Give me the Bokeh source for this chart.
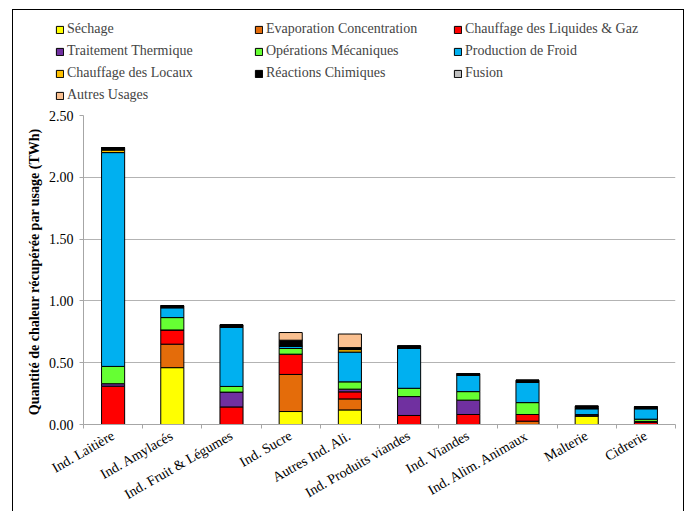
import math
from bokeh.plotting import figure
from bokeh.layouts import column
from bokeh.models import (ColumnDataSource, Legend, LegendItem, FixedTicker,
                          Range1d, NumeralTickFormatter)
from bokeh.embed import file_html
from bokeh.resources import INLINE

categories = ["Ind. Laitière", "Ind. Amylacés", "Ind. Fruit & Légumes", "Ind. Sucre",
              "Autres Ind. Ali.", "Ind. Produits viandes", "Ind. Viandes",
              "Ind. Alim. Animaux", "Malterie", "Cidrerie"]

usages = ["Séchage", "Evaporation Concentration", "Chauffage des Liquides & Gaz",
          "Traitement Thermique", "Opérations Mécaniques", "Production de Froid",
          "Chauffage des Locaux", "Réactions Chimiques", "Fusion", "Autres Usages"]

sechage = [0.0, 0.46, 0.0, 0.105, 0.118, 0.0, 0.0, 0.0, 0.07, 0.0]
evaporation = [0.0, 0.19, 0.0, 0.30, 0.089, 0.0, 0.0, 0.027, 0.0, 0.0]
chauffage_liquides = [0.31, 0.115, 0.142, 0.164, 0.057, 0.073, 0.081, 0.054, 0.0, 0.018]
traitement = [0.02, 0.0, 0.12, 0.0, 0.022, 0.153, 0.116, 0.0, 0.01, 0.007]
operations = [0.14, 0.10, 0.046, 0.046, 0.059, 0.067, 0.069, 0.096, 0.0, 0.018]
froid = [1.73, 0.08, 0.478, 0.018, 0.241, 0.323, 0.132, 0.165, 0.048, 0.085]
locaux = [0.02, 0.0, 0.0, 0.0, 0.02, 0.0, 0.0, 0.0, 0.0, 0.0]
chimiques = [0.02, 0.016, 0.02, 0.049, 0.016, 0.019, 0.013, 0.016, 0.02, 0.015]
fusion = [0.0, 0.0, 0.0, 0.0, 0.0, 0.0, 0.0, 0.0, 0.0, 0.0]
autres = [0.0, 0.0, 0.0, 0.062, 0.11, 0.0, 0.0, 0.0, 0.0, 0.0]

y_ticks = [0.0, 0.5, 1.0, 1.5, 2.0, 2.5]
y_title = "Quantité de chaleur récupérée  par usage (TWh)"

colors = ["#FFFF00", "#E46C0A", "#FF0000", "#7030A0", "#66FF33", "#00B0F0",
          "#FFC000", "#000000", "#BFBFBF", "#FAC090"]

series = [sechage, evaporation, chauffage_liquides, traitement, operations,
          froid, locaux, chimiques, fusion, autres]
keys = ["s%d" % i for i in range(len(series))]

centers = [i + 0.5 for i in range(len(categories))]
data = {"x": centers}
for k, s in zip(keys, series):
    data[k] = s
source = ColumnDataSource(data)

SERIF = "Liberation Serif"
W = 670

# ---- main chart ----
p = figure(width=W, height=401, output_backend="svg", toolbar_location=None,
           x_range=Range1d(0, len(categories)), y_range=Range1d(0, 2.5),
           min_border_left=70, min_border_right=8, min_border_top=5,
           min_border_bottom=86)
p.outline_line_color = None

rends = p.vbar_stack(keys, x="x", width=0.39, source=source, color=colors,
                     line_color="black", line_width=1)

p.xaxis.ticker = FixedTicker(ticks=centers, minor_ticks=list(range(len(categories) + 1)))
p.xaxis.major_label_overrides = {c: n for c, n in zip(centers, categories)}
p.xaxis.major_label_orientation = math.pi / 6
p.xaxis.major_tick_line_color = None
p.xaxis.major_tick_out = 0
p.xaxis.minor_tick_line_color = "#a6a6a6"
p.xaxis.minor_tick_out = 4
p.xaxis.minor_tick_in = 0
p.xaxis.axis_line_color = "#a6a6a6"
p.xaxis.major_label_text_font = SERIF
p.xaxis.major_label_text_font_size = "14px"
p.xaxis.major_label_text_color = "black"
p.xaxis.major_label_standoff = 6

p.yaxis.ticker = FixedTicker(ticks=y_ticks)
p.yaxis.formatter = NumeralTickFormatter(format="0.00")
p.yaxis.minor_tick_line_color = None
p.yaxis.major_tick_line_color = "#a6a6a6"
p.yaxis.major_tick_out = 4
p.yaxis.major_tick_in = 0
p.yaxis.axis_line_color = "#a6a6a6"
p.yaxis.major_label_text_font = SERIF
p.yaxis.major_label_text_font_size = "14px"
p.yaxis.major_label_text_color = "black"
p.yaxis.major_label_standoff = 6
p.yaxis.axis_label = y_title
p.yaxis.axis_label_text_font = SERIF
p.yaxis.axis_label_text_font_size = "14px"
p.yaxis.axis_label_text_font_style = "bold"
p.yaxis.axis_label_text_color = "black"
p.yaxis.axis_label_standoff = 4

p.xgrid.grid_line_color = None
p.ygrid.grid_line_color = "#b3b3b3"
p.ygrid.ticker = FixedTicker(ticks=y_ticks)

# ---- legend strip (same series; its bars fall outside its view) ----
lf = figure(width=W, height=100, output_backend="svg", toolbar_location=None,
            x_range=Range1d(0, 1), y_range=Range1d(10, 11),
            x_axis_location=None, y_axis_location=None,
            min_border_left=0, min_border_right=0, min_border_top=0,
            min_border_bottom=0)
lf.outline_line_color = None
lf.xgrid.grid_line_color = None
lf.ygrid.grid_line_color = None
lrends = lf.vbar_stack(keys, x="x", width=0.39, source=source, color=colors,
                       line_color="black", line_width=1)

if "frame_align" in lf.properties():
    lf.frame_align = False
    p.frame_align = False
    legend_x = 42
else:
    legend_x = 0

items = [LegendItem(label=u, renderers=[r]) for u, r in zip(usages, lrends)]
legend = Legend(items=items, location=(legend_x, 7), ncols=3, orientation="horizontal",
                padding=0, margin=0, spacing=6, label_height=16, label_width=181,
                glyph_width=9, glyph_height=9, label_standoff=3,
                border_line_color=None, background_fill_alpha=0,
                inactive_fill_alpha=0,
                label_text_font=SERIF, label_text_font_size="14px")
lf.add_layout(legend, "center")

layout = column(lf, p, spacing=0)
layout.styles = {"border-top": "1px solid black", "border-left": "1px solid black",
                 "border-right": "1px solid black", "margin-left": "12px",
                 "margin-top": "9px"}

open("out.html", "w").write(file_html(layout, INLINE))
